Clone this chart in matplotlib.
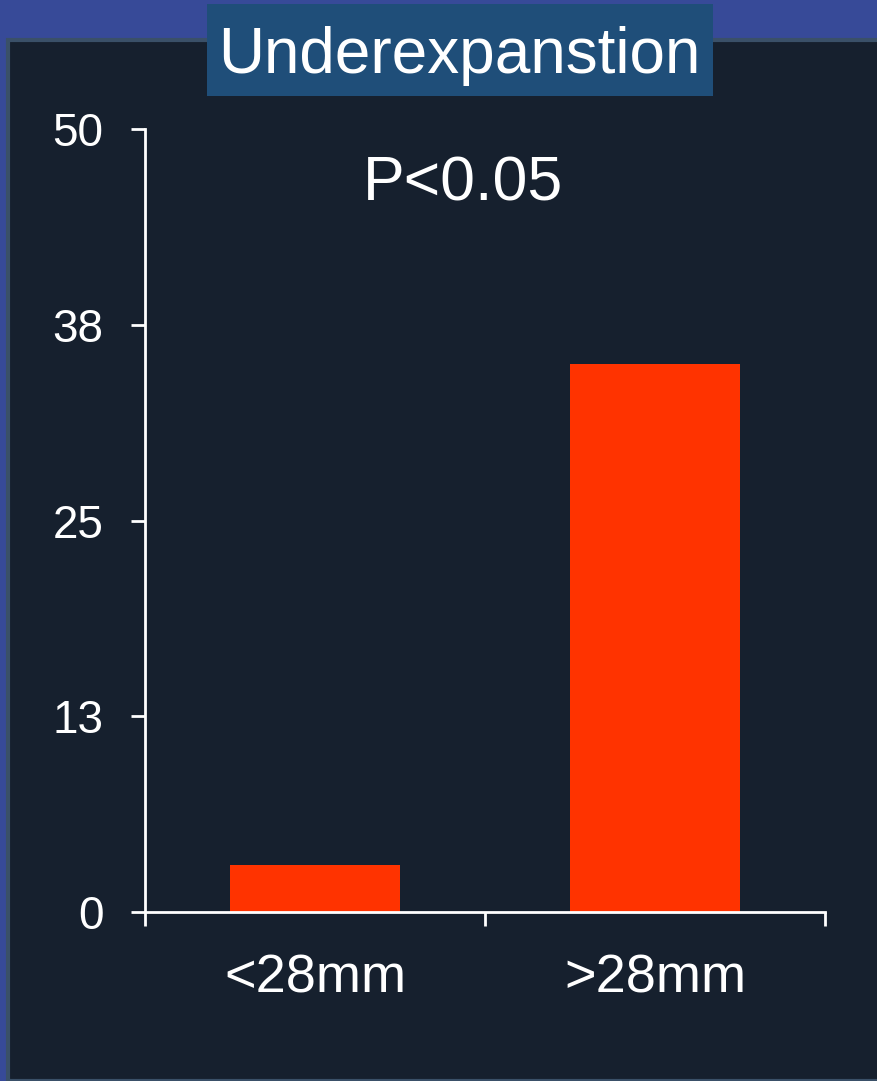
import matplotlib
matplotlib.use("Agg")
import matplotlib.pyplot as plt
from matplotlib.patches import Rectangle

categories = ["<28mm", ">28mm"]
values = [3, 35]
ytick_positions = [0, 12.5, 25, 37.5, 50]
ytick_labels = ["0", "13", "25", "38", "50"]
title = "Underexpanstion"
annotation = "P<0.05"

W, H = 877, 1081
fig = plt.figure(figsize=(W / 100, H / 100), dpi=100)
fig.patch.set_facecolor("#374A98")

# dark panel
fig.patches.append(Rectangle((8 / W, 0), 1.0, (H - 40) / H, transform=fig.transFigure,
                             facecolor="#16202E", edgecolor="#3A5068", linewidth=3, zorder=-3))
# title box
fig.patches.append(Rectangle((207 / W, (H - 96) / H), (713 - 207) / W, 92 / H,
                             transform=fig.transFigure, facecolor="#1F4E79",
                             edgecolor="none", zorder=-2))
fig.text(459 / W, (H - 56) / H, title, color="white", fontsize=46,
         family="Liberation Sans", ha="center", va="center", zorder=2)

ax = fig.add_axes([145 / W, (H - 912) / H, (825 - 145) / W, (912 - 129) / H])
ax.set_zorder(1)
ax.set_facecolor("none")
xs = [i + 0.5 for i in range(len(categories))]
ax.bar(xs, values, width=0.5, color="#FF3300", edgecolor="none", zorder=2)
ax.set_xlim(0, len(categories))
ax.set_ylim(0, 50)
ax.set_yticks(ytick_positions)
ax.set_yticklabels(ytick_labels)
ax.set_xticks(range(len(categories) + 1))
ax.set_xticklabels([])
ax.set_xticks(xs, minor=True)
ax.set_xticklabels(categories, minor=True)

for s in ["top", "right"]:
    ax.spines[s].set_visible(False)
for s in ["left", "bottom"]:
    ax.spines[s].set_color("white")
    ax.spines[s].set_linewidth(2)

ax.tick_params(axis="y", which="major", direction="out", length=10, width=2,
               colors="white", labelsize=33, pad=20)
ax.tick_params(axis="x", which="major", direction="out", length=10, width=2, colors="white")
ax.tick_params(axis="x", which="minor", length=0, labelsize=39, labelcolor="white", pad=30)
for lab in ax.get_yticklabels() + ax.get_xticklabels(minor=True):
    lab.set_family("Liberation Sans")

ax.text(0.467, 0.93, annotation, transform=ax.transAxes, color="white", fontsize=45,
        family="Liberation Sans", ha="center", va="center")

fig.savefig("out.png", dpi=100, facecolor=fig.get_facecolor())
